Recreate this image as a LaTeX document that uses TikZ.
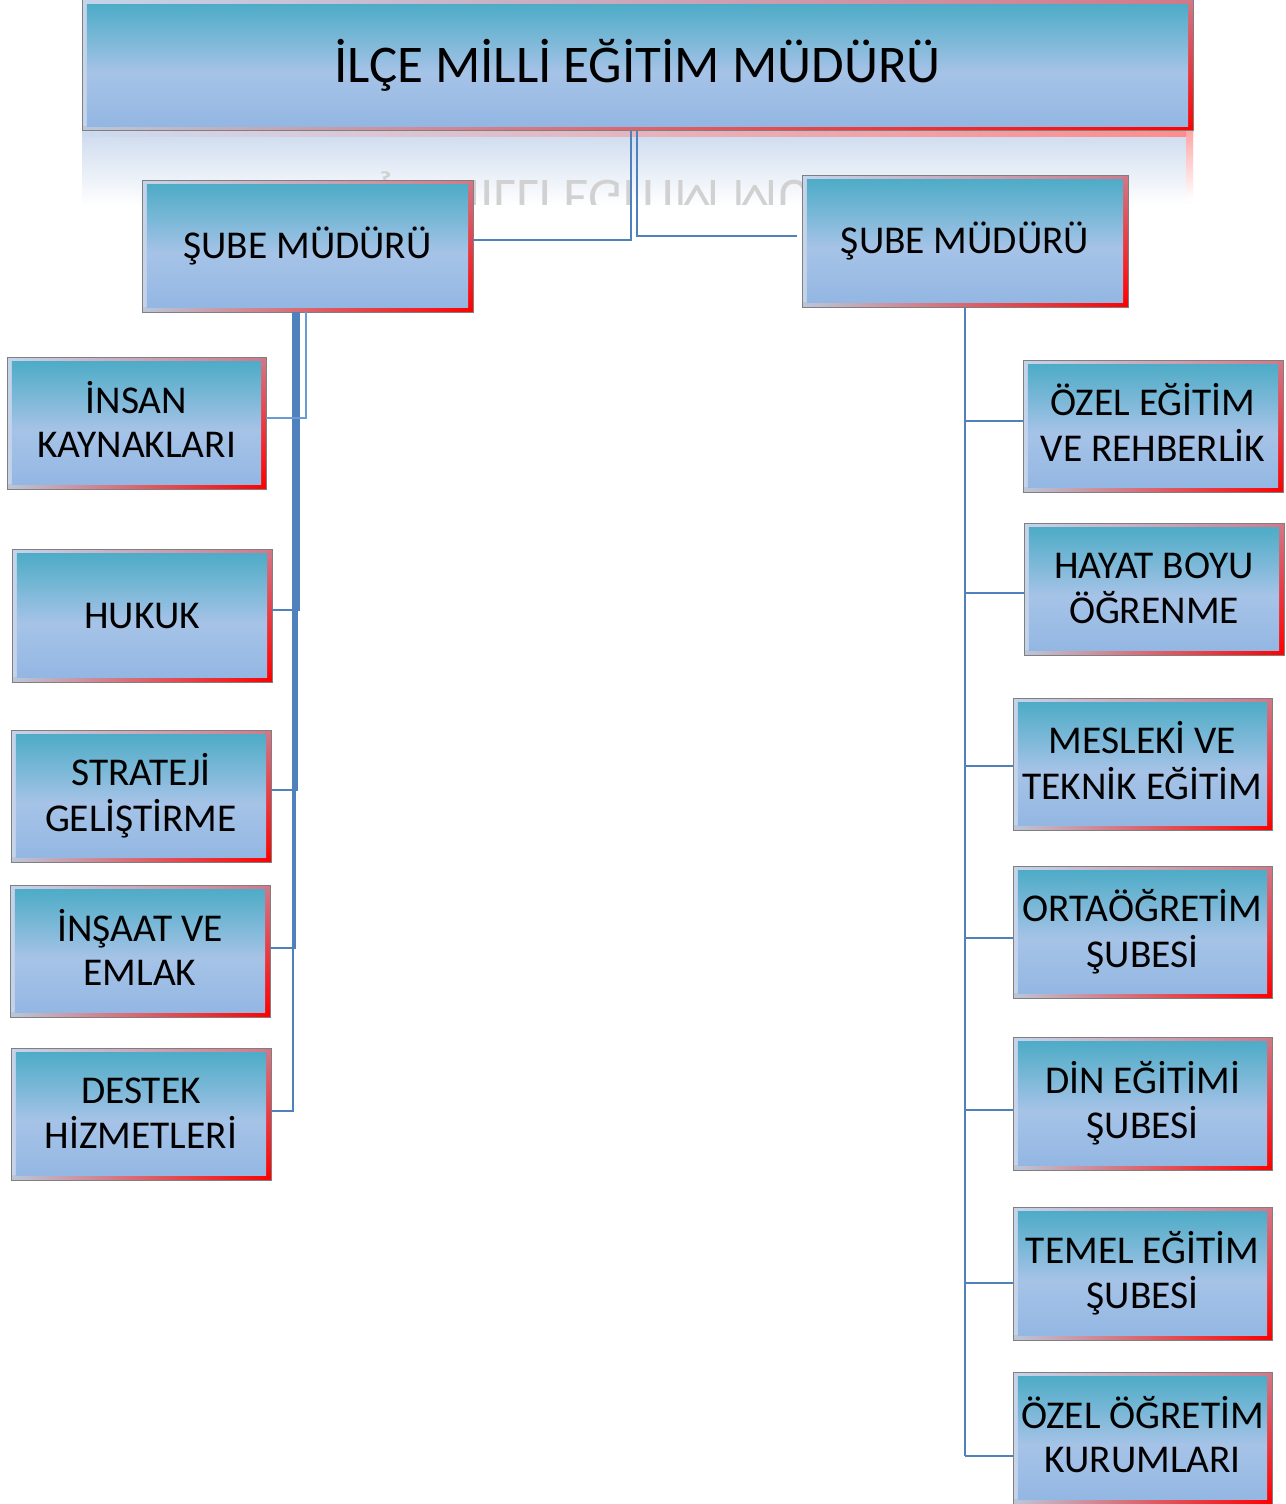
\documentclass[tikz,border=0pt]{standalone}
\usepackage{fontspec}
\usepackage{graphicx}
\setmainfont{Carlito}
\usetikzlibrary{calc}
\definecolor{boxline}{HTML}{7F7F7F}
\definecolor{frameL}{HTML}{C4D4EA}
\definecolor{frameP}{HTML}{D27888}
\definecolor{fillT}{HTML}{4EACC7}
\definecolor{fillM}{HTML}{A6C3E7}
\definecolor{fillB}{HTML}{93B7E3}
\definecolor{connc}{HTML}{4F81BD}
\definecolor{connl}{HTML}{6A9BD6}
\definecolor{reflT}{HTML}{CDDBEE}
\pgfdeclareverticalshading{boxfill}{100bp}{color(0bp)=(fillB); color(25bp)=(fillB); color(47bp)=(fillM); color(75bp)=(fillT); color(100bp)=(fillT)}
\newcommand\titlefont{\fontsize{26.5}{32}\selectfont}
\newcommand\boxfont{\fontsize{19.7}{22}\selectfont}
\tikzset{
  obox/.style={rectangle, draw=boxline, line width=0.5pt, inner sep=0pt, outer sep=0pt,
    align=center, text=black, font=\boxfont,
    path picture={
      \path (path picture bounding box.south west) coordinate (pSW)
            (path picture bounding box.north east) coordinate (pNE);
      \shade[left color=frameL, right color=frameP] (pSW) rectangle (pNE);
      \shade[top color=frameP, bottom color=red] ([xshift=-2.4pt]pNE) rectangle (pNE|-pSW);
      \shade[left color=frameL!85!gray, middle color=frameP, right color=red] (pSW) rectangle ([yshift=2.4pt]pSW-|pNE);
      \shade[shading=boxfill] ([xshift=2.4pt,yshift=2.4pt]pSW) rectangle ([xshift=-2.4pt,yshift=-2.4pt]pNE);
    }},
  conn/.style={draw=connc, line width=1.4pt},
  connlt/.style={draw=connl, line width=1pt}
}
\newcommand\obx[6]{\node[obox, minimum width={(#4-#2)*0.5pt}, minimum height={(#5-#3)*0.5pt}] (#1) at ({(#2+#4)/2},{(#3+#5)/2}) {#6};}
\newcommand\obxx[7]{\node[obox, minimum width={(#4-#2)*0.5pt}, minimum height={(#5-#3)*0.5pt}] (#1) at ({(#2+#4)/2},{(#3+#5)/2}) {\raisebox{-1.5pt}[\height][\depth]{\begin{tabular}{@{}c@{}}#6\\#7\end{tabular}}};}
\begin{document}
\begin{tikzpicture}[x=0.5pt,y=-0.5pt]
\useasboundingbox (0,0) rectangle (1285,1504);
% reflection of the top box
\shade[top color=reflT, bottom color=white] (82,131) rectangle (1193,206);
\shade[left color=reflT, right color=red!45!white] (82,131) rectangle (1193,137);
\shade[top color=red!35!white, bottom color=white] (1186,131) rectangle (1193,200);
\begin{scope}
  \clip (82,131) rectangle (1193,204);
  \node[anchor=base, text=black!18, font=\titlefont, inner sep=0pt] (refl) at (637.5,180) {\scalebox{1}[-1]{İLÇE MİLLİ EĞİTİM MÜDÜRÜ}};
\end{scope}
% boxes
\obx{top}{82}{0}{1193}{131}{\titlefont İLÇE MİLLİ EĞİTİM MÜDÜRÜ}
\obx{sl}{142}{180}{473}{312}{ŞUBE MÜDÜRÜ}
\obx{sr}{802}{175}{1128}{307}{ŞUBE MÜDÜRÜ}
\obxx{l1}{7}{357}{266}{489}{İNSAN}{KAYNAKLARI}
\obx{l2}{12}{549}{272}{682}{HUKUK}
\obxx{l3}{11}{730}{271}{862}{STRATEJİ}{GELİŞTİRME}
\obxx{l4}{10}{885}{270}{1017}{İNŞAAT VE}{EMLAK}
\obxx{l5}{11}{1048}{271}{1180}{DESTEK}{HİZMETLERİ}
\obxx{r1}{1023}{360}{1283}{492}{ÖZEL EĞİTİM}{VE REHBERLİK}
\obxx{r2}{1024}{523}{1284}{655}{HAYAT BOYU}{ÖĞRENME}
\obxx{r3}{1013}{698}{1272}{830}{MESLEKİ VE}{TEKNİK EĞİTİM}
\obxx{r4}{1013}{866}{1272}{998}{ORTAÖĞRETİM}{ŞUBESİ}
\obxx{r5}{1013}{1037}{1272}{1170}{DİN EĞİTİMİ}{ŞUBESİ}
\obxx{r6}{1013}{1207}{1272}{1340}{TEMEL EĞİTİM}{ŞUBESİ}
\obxx{r7}{1013}{1372}{1272}{1504}{ÖZEL ÖĞRETİM}{KURUMLARI}
% connectors from the top
\draw[conn, line width=1.1pt] ($(top.south)+(-6.5,0)$) |- ($(sl.east)+(0,-6)$);
\draw[conn, line width=1.1pt] ($(top.south)+(-0.5,0)$) |- ($(sr.west)+(-5,-5)$);
% left branch
\draw[conn] ($(l5.east)+(0,-3)$) -| ($(sl.south)+(-14.5,0)$);
\draw[conn] ($(l4.east)+(0,-3)$) -| ($(sl.south)+(-12.5,0)$);
\draw[conn] ($(l3.east)+(0,-6)$) -| ($(sl.south)+(-10.5,0)$);
\draw[conn] ($(l2.east)+(0,-5.5)$) -| ($(sl.south)+(-8.5,0)$);
\draw[connlt] ($(l1.east)+(0,-5)$) -| ($(sl.south)+(-2,0)$);
% right branch
\draw[conn] (sr.south) -- ($(sr.south |- r7.west)+(0,18)$);
\draw[conn] ($(sr.south |- r1.west)+(0,-5)$) -- ($(r1.west)+(0,-5)$);
\draw[conn] ($(sr.south |- r2.west)+(0,4)$) -- ($(r2.west)+(0,4)$);
\draw[conn] ($(sr.south |- r3.west)+(0,2)$) -- ($(r3.west)+(0,2)$);
\draw[conn] ($(sr.south |- r4.west)+(0,6)$) -- ($(r4.west)+(0,6)$);
\draw[conn] ($(sr.south |- r5.west)+(0,6.5)$) -- ($(r5.west)+(0,6.5)$);
\draw[conn] ($(sr.south |- r6.west)+(0,9.5)$) -- ($(r6.west)+(0,9.5)$);
\draw[conn] ($(sr.south |- r7.west)+(0,18)$) -- ($(r7.west)+(0,18)$);
\end{tikzpicture}
\end{document}
